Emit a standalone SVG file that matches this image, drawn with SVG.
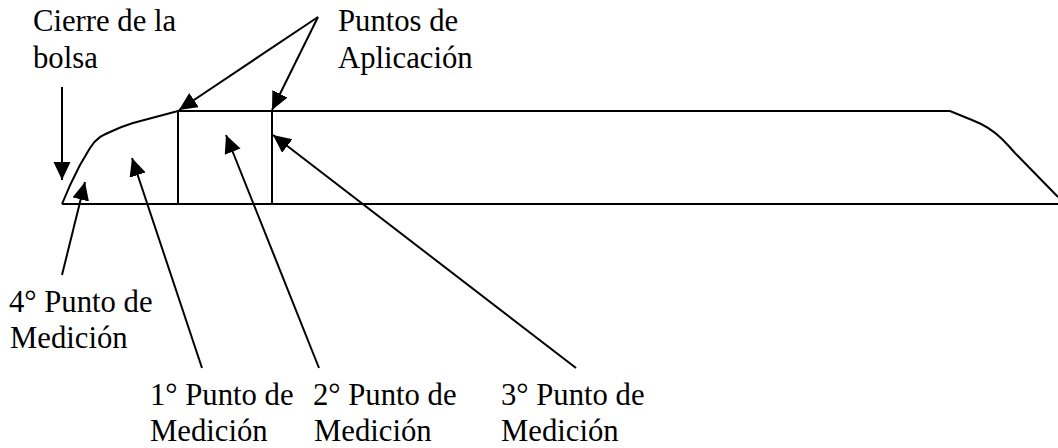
<svg xmlns="http://www.w3.org/2000/svg" width="1058" height="448" viewBox="0 0 1058 448">
<style>
text{font-family:"Liberation Serif","Times New Roman",serif;font-size:30.7px;fill:#000}
.l{fill:none;stroke:#000;stroke-width:2}
</style>
<defs><marker id="a" markerUnits="userSpaceOnUse" markerWidth="19" markerHeight="19" refX="18" refY="8.5" orient="auto"><path d="M0 0L18 8.5L0 17Z" fill="#000"/></marker></defs>
<rect width="1058" height="448" fill="#fff"/>
<g id="bolsa"><path class="l" d="M62 204Q70 184 80 165L90 148C96 138 103 135 110 132Q120 127 133 123L178 111H950L972 120C985 125 993 130 1002 139Q1008 145 1015 153L1058 197M62 204H1058M178 111V204M272 111V204"/></g>
<g id="connectors">
<path class="l" marker-end="url(#a)" d="M62 87V180"/>
<path class="l" marker-end="url(#a)" d="M318 17L179 110"/>
<path class="l" marker-end="url(#a)" d="M318 17L272 110"/>
<path class="l" marker-end="url(#a)" d="M62 275L85 182"/>
<path class="l" marker-end="url(#a)" d="M202 368L132 158"/>
<path class="l" marker-end="url(#a)" d="M319 368L226 135"/>
<path class="l" marker-end="url(#a)" d="M576 368L273 135"/>
</g>
<g id="t1"><text x="33" y="31">Cierre de la</text><text x="33" y="68">bolsa</text></g>
<g id="t2"><text x="338" y="31">Puntos de</text><text x="338" y="68">Aplicación</text></g>
<g id="t3"><text x="9" y="312">4° Punto de</text><text x="10" y="348">Medición</text></g>
<g id="t4"><text x="150" y="405">1° Punto de</text><text x="150" y="441">Medición</text></g>
<g id="t5"><text x="313" y="405">2° Punto de</text><text x="314" y="441">Medición</text></g>
<g id="t6"><text x="501" y="405">3° Punto de</text><text x="501" y="441">Medición</text></g>
</svg>
